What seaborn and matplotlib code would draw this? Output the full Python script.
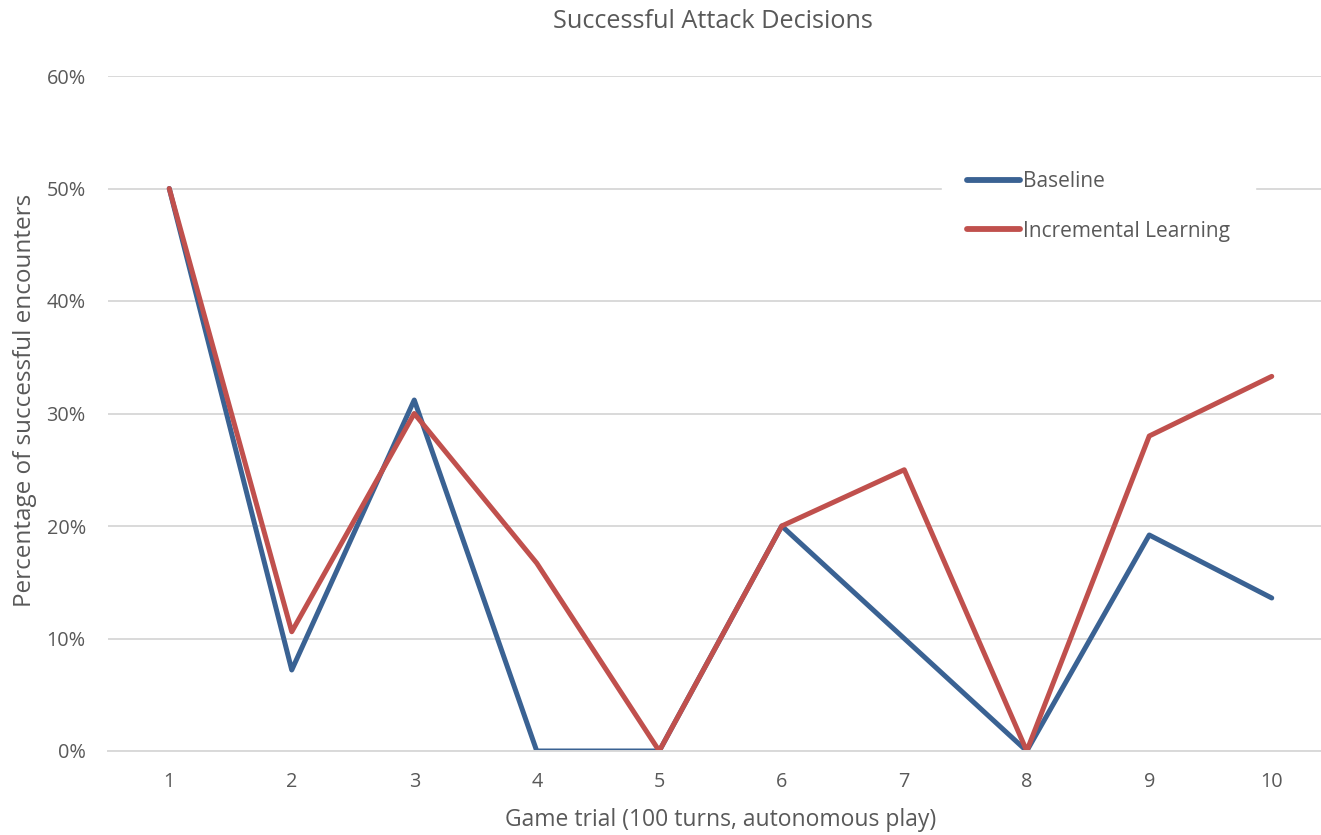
import matplotlib
matplotlib.use("Agg")
import matplotlib.pyplot as plt
import seaborn as sns
import pandas as pd
from matplotlib.ticker import PercentFormatter

trials = [1, 2, 3, 4, 5, 6, 7, 8, 9, 10]
baseline = [0.50, 0.072, 0.312, 0.0, 0.0, 0.20, 0.10, 0.0, 0.192, 0.136]
incremental = [0.50, 0.106, 0.30, 0.167, 0.0, 0.20, 0.25, 0.0, 0.28, 0.333]
series_names = ["Baseline", "Incremental Learning"]
colors = ["#3A6293", "#C0504D"]

df = pd.DataFrame({
    "trial": trials * 2,
    "value": baseline + incremental,
    "series": [series_names[0]] * len(trials) + [series_names[1]] * len(trials),
})

sns.set_theme(style="white")
plt.rcParams["font.family"] = ["Open Sans", "DejaVu Sans"]
text_color = "#595959"
grid_color = "#D9D9D9"

W, H = 1321, 835
fig = plt.figure(figsize=(W / 100, H / 100), dpi=100)
# plot area runs a little past the right edge of the canvas
ax = fig.add_axes([108 / W, 1 - 751 / H, 1225 / W, 675 / H])

sns.lineplot(data=df, x="trial", y="value", hue="series", palette=colors,
             linewidth=3.6, ax=ax, solid_capstyle="round", solid_joinstyle="round")

ax.set_xlim(0.5, 10.5)
ax.set_ylim(0, 0.6)
ax.set_xticks(trials)
ax.set_xticklabels([str(t) for t in trials])
ax.set_yticks([0, 0.1, 0.2, 0.3, 0.4, 0.5, 0.6])
ax.yaxis.set_major_formatter(PercentFormatter(1.0, decimals=0))
ax.grid(axis="y", color=grid_color, linewidth=1.4)
ax.set_axisbelow(True)
for side in ["top", "right", "left"]:
    ax.spines[side].set_visible(False)
ax.spines["bottom"].set_color(grid_color)
ax.spines["bottom"].set_linewidth(1.4)
ax.tick_params(axis="both", length=0, labelsize=14.3, colors=text_color)
ax.tick_params(axis="y", pad=16)
ax.tick_params(axis="x", pad=15)

ax.set_xlabel("Game trial (100 turns, autonomous play)", fontsize=16.5, color=text_color, labelpad=12)
ax.set_ylabel("Percentage of successful encounters", fontsize=17.5, color=text_color, labelpad=7)
ax.yaxis.label.set_y(0.52)
fig.text(713 / W, 1 - 22 / H, "Successful Attack Decisions", fontsize=18.2,
         color=text_color, ha="center", va="center")

leg = ax.legend(loc="center left", bbox_to_anchor=(0.681, 0.8067), frameon=True,
                fontsize=15, handlelength=2.55, handletextpad=0.15,
                labelspacing=1.35, borderpad=1.2, borderaxespad=0)
leg.get_frame().set_facecolor("white")
leg.get_frame().set_edgecolor("white")
leg.get_frame().set_alpha(1)
for t in leg.get_texts():
    t.set_color(text_color)
for line in leg.get_lines():
    line.set_linewidth(4.2)
    line.set_solid_capstyle("round")

fig.savefig("out.png", dpi=100)
